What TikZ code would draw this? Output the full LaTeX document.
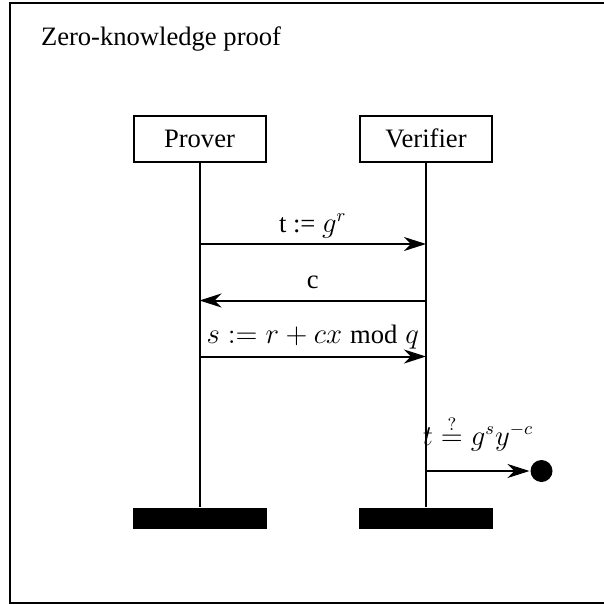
\documentclass[tikz,border=0pt]{standalone}
\usepackage{fontspec}
\setmainfont{Liberation Serif}
\usetikzlibrary{arrows.meta,positioning}
\tikzset{every picture/.style={line width=1pt}}
\tikzset{
    party/.style={draw,minimum width=66pt,minimum height=23pt,inner sep=0pt},
    endbar/.style={fill=black,minimum width=67pt,minimum height=10.5pt,inner sep=0pt},
    msg/.style={-{Stealth[length=11pt,width=7pt,inset=3.5pt]}},
    lbl/.style={anchor=base,inner sep=0pt}
}

\begin{document}
\begin{tikzpicture}[x=0.5pt,y=-0.5pt,font=\fontsize{13.3}{16}\selectfont]
    \clip (0,0) rectangle (604,605);
    \draw (10,3) rectangle (640,603);
    \node[anchor=base west,inner sep=0pt] (title) at (40,45) {Zero-knowledge proof};
    \node[party] (prover) at (199.5,138.5) {Prover};
    \node[party] (verifier) at (426,138.5) {Verifier};
    \node[endbar] (proverEnd) at (199.5,518.5) {};
    \node[endbar] (verifierEnd) at (426,518.5) {};
    \draw (prover) -- (proverEnd);
    \draw (verifier) -- (verifierEnd);
    \coordinate (p1) at (199.5,244); \coordinate (v1) at (426,244);
    \coordinate (p2) at (199.5,300.5); \coordinate (v2) at (426,300.5);
    \coordinate (p3) at (199.5,356.5); \coordinate (v3) at (426,356.5);
    \coordinate (v4) at (426,471);
    \draw[msg] (p1) -- (v1);
    \draw[msg] (v2) -- (p2);
    \draw[msg] (p3) -- (v3);
    \fill (541.5,471) circle (5.5pt) coordinate (done);
    \node[circle,inner sep=0pt,minimum size=11pt] (doneDot) at (done) {};
    \draw[msg] (v4) -- (doneDot);
    \node[lbl] (m1) at (312.75,232) {t := $g^r$};
    \node[lbl] (m2) at (312.75,288) {c};
    \node[lbl] (m3) at (312.75,343) {$s := r + cx \bmod q$};
    \node[lbl] (m4) at (478,445) {$t \stackrel{?}{=} g^s y^{-c}$};
\end{tikzpicture}
\end{document}
